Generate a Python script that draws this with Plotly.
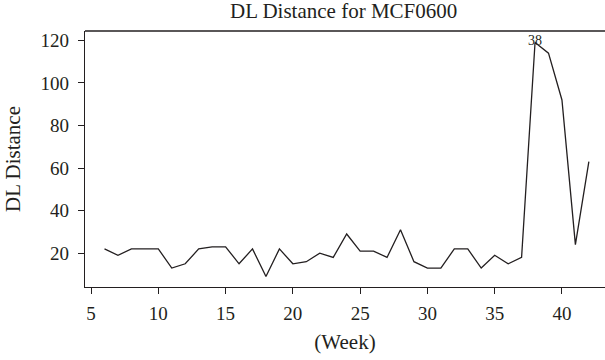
import plotly.graph_objects as go

weeks = list(range(6, 43))
dl_distance = [22, 19, 22, 22, 22, 13, 15, 22, 23, 23, 15, 22, 9, 22, 15, 16, 20, 18, 29,
               21, 21, 18, 31, 16, 13, 13, 22, 22, 13, 19, 15, 18, 119, 114, 92, 24, 63]
x_ticks = [5, 10, 15, 20, 25, 30, 35, 40]
y_ticks = [20, 40, 60, 80, 100, 120]
peak_week = 38

FONT = "Liberation Serif"
INK = "#231f20"

fig = go.Figure()
fig.add_trace(go.Scatter(x=weeks, y=dl_distance, mode="lines",
                         line=dict(color=INK, width=1.3), showlegend=False,
                         hoverinfo="skip"))
fig.add_annotation(x=peak_week, y=dl_distance[weeks.index(peak_week)], text=str(peak_week),
                   showarrow=False, font=dict(family=FONT, size=14, color=INK),
                   yshift=2)

fig.update_layout(
    width=605, height=360,
    margin=dict(l=85, r=0, t=31, b=73),
    paper_bgcolor="white", plot_bgcolor="white",
    font=dict(family=FONT, color=INK),
    title=dict(text="DL Distance for MCF0600", x=0.568, xanchor="center",
               y=1 - 11 / 360, yanchor="middle",
               font=dict(family=FONT, size=21, color=INK)),
)
fig.update_xaxes(range=[4.55, 43.2], tickvals=x_ticks, ticks="outside", ticklen=6,
                 tickwidth=1, tickcolor=INK, showline=True, linecolor=INK, linewidth=1.3,
                 mirror=False, showgrid=False, zeroline=False, automargin=False,
                 ticklabelstandoff=3,
                 tickfont=dict(family=FONT, size=19, color=INK),
                 title=dict(text="(Week)", font=dict(family=FONT, size=21, color=INK),
                            standoff=11))
fig.update_yaxes(range=[4.1, 124.4], tickvals=y_ticks, ticks="outside", ticklen=6,
                 tickwidth=1, tickcolor=INK, showline=True, linecolor=INK, linewidth=1.3,
                 showgrid=False, zeroline=False, automargin=False, ticklabelstandoff=5,
                 tickfont=dict(family=FONT, size=19, color=INK),
                 title=dict(text="DL Distance", font=dict(family=FONT, size=21, color=INK),
                            standoff=14))
# top frame line
fig.add_shape(type="line", xref="paper", yref="paper", x0=0, x1=1, y0=1, y1=1,
              line=dict(color=INK, width=1.3))

fig.write_html("out.html", config={"displayModeBar": False},
               post_script="document.body.style.margin='0';document.body.style.overflow='hidden';")
